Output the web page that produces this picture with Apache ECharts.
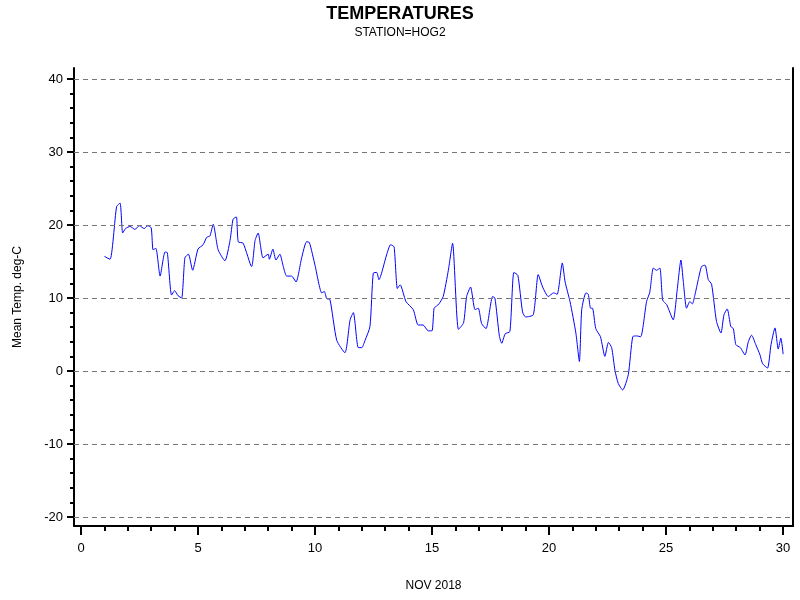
<!DOCTYPE html>
<html><head><meta charset="utf-8">
<script src="https://cdn.jsdelivr.net/npm/echarts@6/dist/echarts.min.js"></script>
<style>html,body{margin:0;padding:0;background:#fff}#c{width:800px;height:600px}</style>
</head><body><div id="c"></div>
<script>
const days = [1.0,1.24,1.52,1.67,1.78,1.9,2.1,2.3,2.5,2.7,2.85,3.0,3.08,3.2,3.38,3.59,3.69,3.87,4.0,4.15,4.3,4.44,4.59,4.77,5.0,5.22,5.37,5.51,5.65,5.86,6.15,6.37,6.5,6.64,6.72,6.93,7.29,7.44,7.57,7.78,8.0,8.05,8.2,8.33,8.5,8.63,8.79,9.0,9.19,9.43,9.64,9.76,10.0,10.29,10.4,10.5,10.64,10.93,11.28,11.5,11.64,11.85,12.0,12.14,12.35,12.49,12.64,12.73,13.06,13.23,13.38,13.52,13.64,13.89,14.2,14.41,14.62,14.84,15.0,15.09,15.2,15.3,15.48,15.7,15.88,16.13,16.35,16.48,16.65,16.84,16.98,17.12,17.31,17.59,17.69,17.88,17.98,18.13,18.33,18.5,18.67,18.87,19.0,19.33,19.54,19.73,19.97,20.2,20.35,20.57,20.69,20.9,21.15,21.3,21.4,21.58,21.68,21.78,21.86,22.0,22.2,22.39,22.54,22.68,22.82,22.96,23.15,23.39,23.58,23.75,23.92,24.17,24.31,24.46,24.6,24.74,24.86,25.03,25.31,25.48,25.64,25.74,25.88,26.02,26.13,26.23,26.38,26.52,26.67,26.81,26.95,27.16,27.35,27.48,27.62,27.77,27.88,27.99,28.18,28.38,28.52,28.66,28.84,29.02,29.13,29.34,29.49,29.66,29.8,29.91,30.01];
const temps = [15.7,15.3,22.5,23.0,18.9,19.5,19.8,19.4,19.9,19.5,19.9,19.6,16.6,16.8,13.0,16.3,16.2,10.4,11.0,10.3,10.0,15.5,16.0,13.8,16.7,17.3,18.3,18.5,20.1,16.6,15.1,17.9,20.8,21.1,17.7,17.5,14.3,17.9,18.9,15.5,16.0,15.3,16.7,15.2,16.0,14.5,13.0,13.0,12.2,15.5,17.7,17.6,14.5,10.7,10.9,9.9,9.8,4.2,2.5,7.0,8.0,3.2,3.2,4.2,6.1,13.4,13.5,12.5,15.9,17.3,17.0,11.3,11.8,9.5,8.4,6.3,6.3,5.5,5.5,8.6,8.9,9.2,10.2,13.8,17.5,5.7,6.6,10.2,11.5,8.4,8.6,6.5,5.8,10.2,10.0,4.8,3.8,5.1,5.4,13.5,13.1,8.1,7.4,7.7,13.2,11.5,10.2,10.7,10.5,14.8,12.2,9.5,5.2,1.3,8.4,10.7,10.5,8.6,8.6,5.8,4.7,2.0,3.9,3.2,0.1,-1.7,-2.6,-0.5,4.7,4.8,4.7,9.5,10.8,14.1,13.8,14.1,9.7,9.1,7.0,11.1,15.2,12.3,8.6,9.5,9.2,10.3,12.5,14.3,14.5,12.5,11.9,6.8,5.2,7.7,8.5,6.1,5.8,3.6,3.2,2.2,4.0,4.9,3.6,2.2,1.0,0.4,3.6,5.9,3.0,4.5,2.3];
const yMajor = [-20,-10,0,10,20,30,40];
const yMinor = [-20,-18,-16,-14,-12,-10,-8,-6,-4,-2,0,2,4,6,8,10,12,14,16,18,20,22,24,26,28,30,32,34,36,38,40];
const xMajor = [0,5,10,15,20,25,30];
const xMinor = [0,1,2,3,4,5,6,7,8,9,10,11,12,13,14,15,16,17,18,19,20,21,22,23,24,25,26,27,28,29,30];

const FONT = 'Liberation Sans, Arial, sans-serif';
const chart = echarts.init(document.getElementById('c'));
const line = {show:true, onZero:false, lineStyle:{color:'#000', width:2}};
const noLine = {show:false, onZero:false};
chart.setOption({
  animation:false,
  textStyle:{fontFamily:FONT},
  title:{text:'TEMPERATURES', subtext:'STATION=HOG2', left:'center', top:0, itemGap:4,
    textStyle:{fontFamily:FONT, fontSize:18, fontWeight:'bold', color:'#000'},
    subtextStyle:{fontFamily:FONT, fontSize:12, color:'#000'}},
  grid:{left:74, right:7, top:68, bottom:74},
  xAxis:[
    {type:'value', min:-0.3, max:30.43, position:'bottom', splitLine:{show:false}, axisLine:line,
      axisTick:{customValues:xMajor, length:9, lineStyle:{color:'#000', width:2}},
      axisLabel:{customValues:xMajor, color:'#000', fontSize:13, margin:16, fontFamily:FONT},
      name:'NOV 2018', nameLocation:'middle', nameGap:54, nameTextStyle:{color:'#000', fontSize:12, fontFamily:FONT}},
    {type:'value', min:-0.3, max:30.43, position:'bottom', splitLine:{show:false}, axisLine:noLine,
      axisTick:{customValues:xMinor, length:5, lineStyle:{color:'#000', width:2}}, axisLabel:{show:false}}
  ],
  yAxis:[
    {type:'value', min:-21.23, max:41.5, position:'left', splitLine:{show:false}, axisLine:line,
      axisTick:{customValues:yMajor, length:7, lineStyle:{color:'#000', width:2}},
      axisLabel:{customValues:yMajor, color:'#000', fontSize:13, margin:11, fontFamily:FONT},
      name:'Mean Temp. deg-C', nameLocation:'middle', nameGap:50, nameRotate:90,
      nameTextStyle:{color:'#000', fontSize:12, fontFamily:FONT}},
    {type:'value', min:-21.23, max:41.5, position:'left', splitLine:{show:false}, axisLine:noLine,
      axisTick:{customValues:yMinor, length:4, lineStyle:{color:'#000', width:2}}, axisLabel:{show:false}},
    {type:'value', min:-21.23, max:41.5, position:'right', splitLine:{show:false}, axisLine:line,
      axisTick:{show:false}, axisLabel:{show:false}}
  ],
  series:[{
    type:'line', data:days.map((d,i)=>[d,temps[i]]), showSymbol:false, smooth:0.2,
    lineStyle:{color:'#0000ff', width:1}, z:3,
    markLine:{silent:true, symbol:'none', label:{show:false},
      lineStyle:{color:'#777', type:[5,4], width:1},
      data:yMajor.map(v=>({yAxis:v}))}
  }]
});
</script></body></html>
